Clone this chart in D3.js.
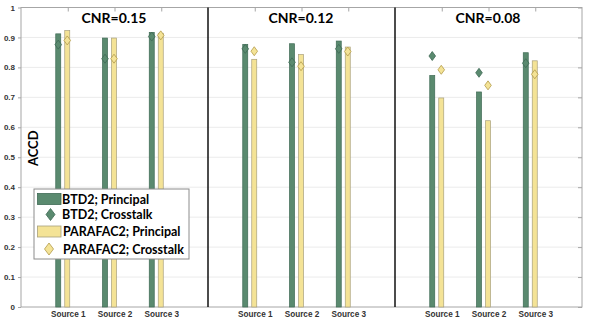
<!DOCTYPE html>
<html>
<head>
<meta charset="utf-8">
<script src="https://cdn.jsdelivr.net/npm/d3@7"></script>
<style>
  body { margin: 0; background: #fff; }
  svg { display: block; }
</style>
</head>
<body>
<script>
// data
const panels = ["CNR=0.15", "CNR=0.12", "CNR=0.08"];
const sources = ["Source 1", "Source 2", "Source 3"];
const btdPrincipal = [[0.912, 0.898, 0.917], [0.877, 0.879, 0.888], [0.773, 0.718, 0.849]];
const btdCrosstalk = [[0.876, 0.829, 0.903], [0.862, 0.817, 0.862], [0.838, 0.782, 0.814]];
const parPrincipal = [[0.923, 0.898, 0.914], [0.827, 0.843, 0.868], [0.698, 0.622, 0.822]];
const parCrosstalk = [[0.890, 0.829, 0.907], [0.854, 0.804, 0.853], [0.792, 0.740, 0.777]];
const yTicks = d3.ticks(0, 1, 10);
const legendItems = ["BTD2; Principal", "BTD2; Crosstalk", "PARAFAC2; Principal", "PARAFAC2; Crosstalk"];

const width = 592, height = 324;
const plot = {left: 21, right: 582, top: 7.5, bottom: 307};
const green = "#5a8a6f", greenEdge = "#3f6a55";
const yellow = "#f4e396", yellowEdge = "#a9a07c";
const calibri = "Lato, 'Open Sans', sans-serif";

const svg = d3.select("body").append("svg")
  .attr("width", width)
  .attr("height", height);

let y = d3.scaleLinear().domain([0, 1]).range([plot.bottom, plot.top]);

// panels split the plot area in three
let panelScale = d3.scaleBand().domain(panels).range([plot.left, plot.right]).paddingInner(0);
// series offset inside a group (yellow bar sits on the tick)
let offset = d3.scalePoint().domain(["BTD2", "PARAFAC2"]).range([-9.5, -0.5]);
const barW = 5;

// grid
svg.append("g")
  .selectAll("line")
  .data(yTicks.filter(d => d > 0 && d < 1))
  .join("line")
  .attr("x1", plot.left).attr("x2", plot.right)
  .attr("y1", d => y(d)).attr("y2", d => y(d))
  .attr("stroke", "#ebebeb")
  .attr("stroke-width", 1);

// frame
svg.append("rect")
  .attr("x", plot.left).attr("y", plot.top)
  .attr("width", plot.right - plot.left).attr("height", plot.bottom - plot.top)
  .attr("fill", "none")
  .attr("stroke", "#a6a6a6")
  .attr("stroke-width", 1);

// left axis
let yAxis = svg.append("g")
  .attr("transform", `translate(${plot.left},0)`)
  .call(d3.axisLeft(y).tickValues(yTicks).tickFormat(d3.format("~g")).tickSize(3).tickPadding(3));
yAxis.select(".domain").remove();
yAxis.selectAll("line").attr("stroke", "#a6a6a6");
yAxis.selectAll("text")
  .attr("font-family", "Arial, 'Liberation Sans', sans-serif")
  .attr("font-size", 8)
  .attr("font-weight", "bold")
  .attr("fill", "#333");

// right axis ticks
let rAxis = svg.append("g")
  .attr("transform", `translate(${plot.right},0)`)
  .call(d3.axisLeft(y).tickValues(yTicks).tickFormat("").tickSize(4));
rAxis.select(".domain").remove();
rAxis.selectAll("line").attr("stroke", "#a6a6a6");

// y label
svg.append("text")
  .attr("transform", `translate(37.5,${y(0.53)}) rotate(-90)`)
  .attr("text-anchor", "middle")
  .attr("font-family", calibri)
  .attr("font-size", 13)
  .attr("font-weight", "bold")
  .attr("fill", "#000")
  .text("ACCD");

panels.forEach(function(p, pi) {
  let x0 = panelScale(p);
  let x = d3.scaleLinear().domain([0, 4]).range([x0, x0 + panelScale.bandwidth()]);

  // top ticks
  let tAxis = svg.append("g")
    .attr("transform", `translate(0,${plot.top})`)
    .call(d3.axisBottom(x).tickValues([1, 2, 3]).tickFormat("").tickSize(4));
  tAxis.select(".domain").remove();
  tAxis.selectAll("line").attr("stroke", "#a6a6a6");

  // bottom labels
  let bAxis = svg.append("g")
    .attr("transform", `translate(0,${plot.bottom})`)
    .call(d3.axisBottom(x).tickValues([1, 2, 3]).tickFormat((d, i) => sources[i]).tickSize(0).tickPadding(4));
  bAxis.select(".domain").remove();
  bAxis.selectAll("text")
    .attr("font-family", "Arial, 'Liberation Sans', sans-serif")
    .attr("font-size", 8.2)
    .attr("font-weight", "bold")
    .attr("fill", "#333");

  // divider
  if (pi > 0) {
    svg.append("line")
      .attr("x1", x0).attr("x2", x0)
      .attr("y1", plot.top).attr("y2", plot.bottom)
      .attr("stroke", "#111")
      .attr("stroke-width", 1.5);
  }

  // title
  svg.append("text")
    .attr("x", x(2) - 0.5)
    .attr("y", 22.5)
    .attr("text-anchor", "middle")
    .attr("font-family", calibri)
    .attr("font-size", 14)
    .attr("font-weight", "bold")
    .attr("fill", "#000")
    .text(p);

  let g = svg.append("g");
  // bars
  g.selectAll(".btd")
    .data(btdPrincipal[pi])
    .join("rect")
    .attr("x", (d, i) => x(i + 1) + offset("BTD2") - barW / 2)
    .attr("y", d => y(d))
    .attr("width", barW)
    .attr("height", d => y(0) - y(d))
    .attr("fill", green)
    .attr("stroke", greenEdge)
    .attr("stroke-width", 0.7);
  g.selectAll(".par")
    .data(parPrincipal[pi])
    .join("rect")
    .attr("x", (d, i) => x(i + 1) + offset("PARAFAC2") - barW / 2)
    .attr("y", d => y(d))
    .attr("width", barW)
    .attr("height", d => y(0) - y(d))
    .attr("fill", yellow)
    .attr("stroke", yellowEdge)
    .attr("stroke-width", 0.7);

  // crosstalk diamonds
  let diamond = "M0,-4.5L3.3,0L0,4.5L-3.3,0Z";
  g.selectAll(".btdc")
    .data(btdCrosstalk[pi])
    .join("path")
    .attr("d", diamond)
    .attr("transform", (d, i) => `translate(${x(i + 1) + offset("BTD2")},${y(d)})`)
    .attr("fill", green)
    .attr("stroke", greenEdge)
    .attr("stroke-width", 0.8);
  g.selectAll(".parc")
    .data(parCrosstalk[pi])
    .join("path")
    .attr("d", diamond)
    .attr("transform", (d, i) => `translate(${x(i + 1) + offset("PARAFAC2")},${y(d)})`)
    .attr("fill", yellow)
    .attr("stroke", "#b39a4a")
    .attr("stroke-width", 0.8);
});

// legend
let legend = svg.append("g").attr("transform", "translate(34,189)");
legend.append("rect")
  .attr("width", 155).attr("height", 70)
  .attr("fill", "#fff")
  .attr("stroke", "#8c8c8c")
  .attr("stroke-width", 1);

let rowY = [10, 25.5, 42.5, 60];
legendItems.forEach(function(t, i) {
  let row = legend.append("g").attr("transform", `translate(0,${rowY[i]})`);
  let isGreen = i < 2;
  if (i % 2 === 0) {
    row.append("rect")
      .attr("x", 3.5).attr("y", -5.5)
      .attr("width", 23.5).attr("height", 11)
      .attr("fill", isGreen ? green : yellow)
      .attr("stroke", isGreen ? greenEdge : yellowEdge)
      .attr("stroke-width", 0.8);
  } else {
    row.append("path")
      .attr("d", "M0,-6L4.5,0L0,6L-4.5,0Z")
      .attr("transform", `translate(${isGreen ? 16.5 : 15},0)`)
      .attr("fill", isGreen ? green : yellow)
      .attr("stroke", isGreen ? greenEdge : "#b39a4a")
      .attr("stroke-width", 0.8);
  }
  row.append("text")
    .attr("x", isGreen ? 28 : 29)
    .attr("y", 4.5)
    .attr("font-family", calibri)
    .attr("font-size", 12.5)
    .attr("font-weight", "bold")
    .attr("fill", "#000")
    .text(t);
});
</script>
</body>
</html>
